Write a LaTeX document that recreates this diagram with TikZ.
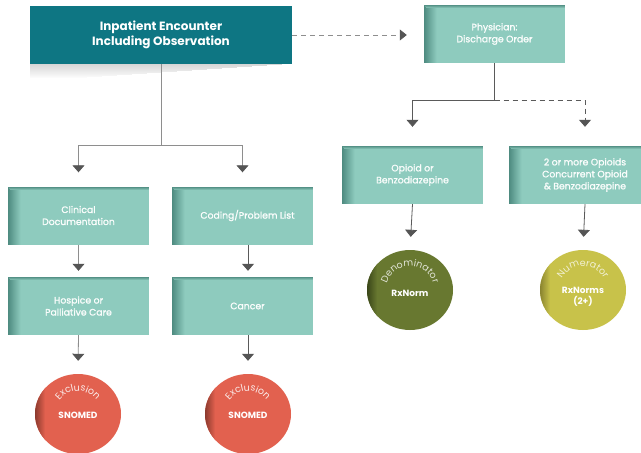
\documentclass[tikz,border=0pt]{standalone}
\usepackage{fontspec}
\setmainfont{Poppins}
\newfontfamily\popmed[FakeBold=1.4]{Poppins}
\newfontfamily\poplight{Poppins}
\usetikzlibrary{arrows.meta,shapes.geometric,decorations.text}
\definecolor{tealdark}{HTML}{0E7683}
\definecolor{lboxc}{HTML}{8ECBBE}
\definecolor{lshad}{HTML}{4E8B80}
\definecolor{exred}{HTML}{E2614F}
\definecolor{exshad}{HTML}{8C3A2E}
\definecolor{denc}{HTML}{687830}
\definecolor{denshad}{HTML}{3A4619}
\definecolor{numc}{HTML}{C8C24A}
\definecolor{numshad}{HTML}{8A8430}
\definecolor{linel}{HTML}{8E8E8E}
\definecolor{lined}{HTML}{5A5A5A}
\definecolor{arrc}{HTML}{555555}
\newcommand\curvefont{\poplight\fontsize{9.5}{11}\selectfont}
\begin{document}
\begin{tikzpicture}[x=1pt,y=-1pt,
  topbox/.style={rectangle, inner sep=0pt, minimum width=262pt, minimum height=58pt,
    fill=tealdark, text=white, align=center, font=\bfseries\fontsize{12}{15.5}\selectfont},
  lbox/.style={rectangle, inner sep=0pt, minimum width=141pt, minimum height=58pt,
    fill=lboxc, text=white!96!lboxc, align=center, font=\popmed\fontsize{9.3}{12}\selectfont,
    path picture={
      \foreach \i [evaluate=\i as \p using {int(100-\i*8)}] in {0,...,12}
        \fill[lshad!\p!lboxc] ([xshift=\i pt]path picture bounding box.south west) rectangle ([xshift=\i pt+1.1pt]path picture bounding box.north west);
      \foreach \i [evaluate=\i as \p using {int(90-\i*30)}] in {0,1,2}
        \fill[lshad!\p!lboxc] ([xshift=\i pt, yshift=-\i pt]path picture bounding box.north west) rectangle ([yshift=-\i pt-1.1pt]path picture bounding box.north east);
    }},
  circ/.style 2 args={ellipse, inner sep=0pt, minimum width=86pt, minimum height=80pt, fill=#1,
    path picture={
      \foreach \i [evaluate=\i as \p using {int(100-\i*10)}] in {0,...,10}
        \fill[#2!\p!#1] ([xshift=\i pt]path picture bounding box.south west) rectangle ([xshift=\i pt+1.1pt]path picture bounding box.north west);
    }},
  conn/.style={draw=linel, line width=0.8pt},
  connd/.style={draw=lined, line width=0.8pt},
  tip/.style={-{Triangle[width=12pt,length=7pt,color=arrc]}},
  ctext/.style={text=white, font=\bfseries\fontsize{9}{11}\selectfont, align=center},
]
\clip (0,0) rectangle (641,453);
\fill[white] (0,0) rectangle (641,453);

% nodes
\node[topbox] (enc) at (161,35) {Inpatient Encounter\\Including Observation};
\foreach \i [evaluate=\i as \w using {\i*15}, evaluate=\i as \o using {0.16-\i*0.011}] in {0,...,13}
  \fill[black, opacity=\o] ([yshift=-\i pt]enc.south west) rectangle ([xshift=-\w pt-10pt, yshift=-\i pt-1pt]enc.south east);
\node[lbox] (phys) at (494.5,34) {Physician:\\Discharge Order};
\node[lbox] (clin) at (78.5,215.5) {Clinical\\Documentation};
\node[lbox] (cod) at (242.5,215.5) {\hspace*{10pt}Coding/Problem List};
\node[lbox] (hosp) at (78.5,306) {Hospice or\\Palliative Care};
\node[lbox] (canc) at (242.5,306) {\hspace*{10pt}Cancer};
\node[lbox] (opi) at (412.5,175) {Opioid or\\Benzodiazepine};
\node[lbox, minimum width=152pt] (two) at (585,175) {2 or more Opioids\\Concurrent Opioid\\\&~Benzodiazepine};

\node[circ={exred}{exshad}] (ex1) at (78,414) {};
\node[circ={exred}{exshad}] (ex2) at (248,414) {};
\node[circ={denc}{denshad}] (den) at (410,290) {};
\node[circ={numc}{numshad}] (num) at (583,290) {};

\node[ctext] (t1) at (78,415) {SNOMED};
\node[ctext] (t2) at (248,415) {SNOMED};
\node[ctext] (t3) at (410,293) {RxNorm};
\node[ctext] (t4) at (583,297) {RxNorms\\(2+)};

% curved labels
\path[decorate, decoration={text along path, text align=center,
  text={|\curvefont\color{white!88!exred}|Exclusion}}] (ex1) ++(200:23) arc (200:340:23);
\path[decorate, decoration={text along path, text align=center,
  text={|\curvefont\color{white!88!exred}|Exclusion}}] (ex2) ++(200:23) arc (200:340:23);
\path[decorate, decoration={text along path, text align=center,
  text={|\curvefont\color{white!80!denc}|Denominator}}] (den) ++(180:24) arc (180:360:24);
\path[decorate, decoration={text along path, text align=center,
  text={|\curvefont\color{white!75!numc}|Numerator}}] (num) ++(190:24) arc (190:350:24);

% connectors left
\coordinate (j1) at (161,145);
\draw[conn] (enc.south) -- (j1);
\draw[conn, tip, shorten >=14pt] (j1) -| (clin.north);
\draw[conn, tip, shorten >=14pt] (j1) -| (cod.north);
\draw[conn, tip, shorten >=6pt] (clin.south) -- (hosp.north);
\draw[connd, tip, shorten >=6pt] ([xshift=5.5pt]cod.south) -- ([xshift=5.5pt]canc.north);
\draw[conn, tip, shorten >=13pt] (hosp.south) -- (ex1.north);
\draw[connd, tip, shorten >=13pt] ([xshift=5.5pt]canc.south) -- (ex2.north);

% dashed to physician
\draw[conn, dash pattern=on 5pt off 4pt, -{Triangle[width=11pt,length=7pt,color=arrc]}, shorten >=17pt] (enc.east) -- (phys.west |- enc.east);

% connectors right
\coordinate (j2) at (494.5,100);
\draw[connd] (phys.south) -- (j2);
\draw[connd, tip, shorten >=19pt] (j2) -| (opi.north);
\draw[connd, dash pattern=on 5pt off 4pt, tip, shorten >=19pt] (j2) -| (two.north);
\draw[connd, tip, shorten >=13pt] (opi.south) -- (den.north);
\draw[connd, tip, shorten >=13pt] (two.south) -- (num.north);
\end{tikzpicture}
\end{document}
